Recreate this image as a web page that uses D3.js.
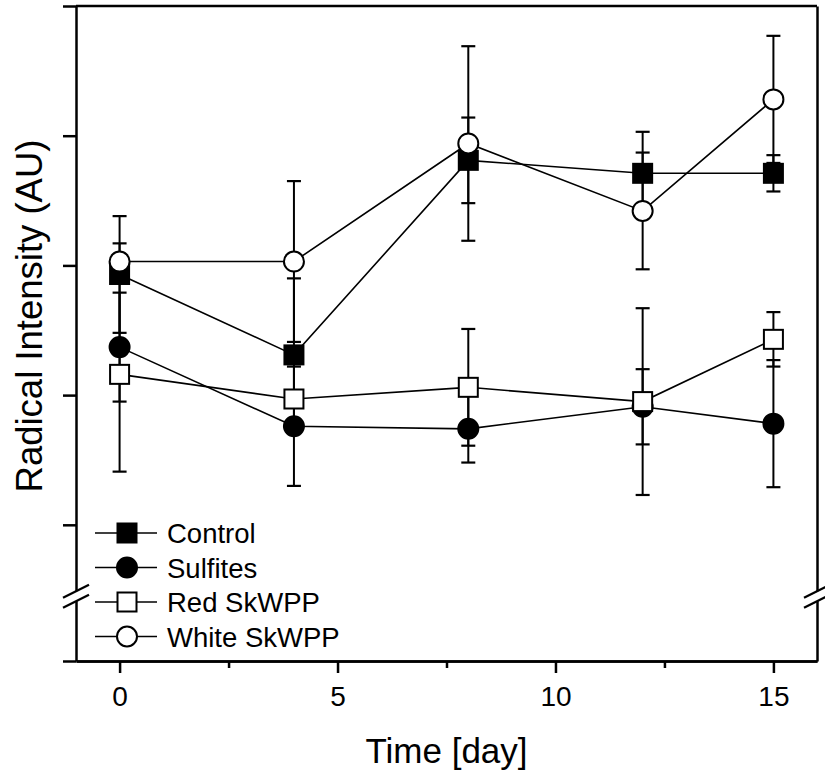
<!DOCTYPE html>
<html>
<head>
<meta charset="utf-8">
<script src="https://cdnjs.cloudflare.com/ajax/libs/d3/7.8.5/d3.min.js"></script>
<style>
  body { margin: 0; background: #fff; }
  svg { display: block; font-family: "Liberation Sans", Arial, sans-serif; }
</style>
</head>
<body>
<div id="chart"></div>
<script>
// data (arbitrary units, y ticks unlabeled)
var days = [0, 4, 8, 12, 15];
var seriesNames = ["Control", "Sulfites", "Red SkWPP", "White SkWPP"];
var control = [2.93, 2.31, 3.81, 3.71, 3.71];
var controlErr = [0.45, 0.59, 0.33, 0.32, 0.14];
var sulfites = [2.37, 1.76, 1.74, 1.91, 1.78];
var sulfitesErr = [0.42, 0.46, 0.26, 0.29, 0.49];
var redSkWPP = [2.16, 1.97, 2.06, 1.95, 2.43];
var redSkWPPErr = [0.75, 0.04, 0.45, 0.72, 0.21];
var whiteSkWPP = [3.03, 3.03, 3.94, 3.42, 4.28];
var whiteSkWPPErr = [0.14, 0.62, 0.75, 0.45, 0.49];
var xTicks = [0, 5, 10, 15];
var xMinorTicks = [2.5, 7.5, 12.5];
var yTicks = [1, 2, 3, 4, 5];
var yMin = -0.05, yBreak = 0.45;

var svgW = 825, svgH = 778;
var plotL = 76, plotR = 817, plotT = 6, plotB = 661;

var svg = d3.select("#chart").append("svg").attr("width", svgW).attr("height", svgH);

var x = d3.scaleLinear().domain([-1, 16]).range([plotL, plotR]);
var y = d3.scaleLinear().domain([yMin, 5]).range([plotB, plotT]);

var series = [
  { name: seriesNames[0], vals: control, err: controlErr, shape: "square", fill: "#000" },
  { name: seriesNames[1], vals: sulfites, err: sulfitesErr, shape: "circle", fill: "#000" },
  { name: seriesNames[2], vals: redSkWPP, err: redSkWPPErr, shape: "square", fill: "#fff" },
  { name: seriesNames[3], vals: whiteSkWPP, err: whiteSkWPPErr, shape: "circle", fill: "#fff" }
];

// axes
var yAxis = d3.axisLeft(y).tickValues([yMin].concat(yTicks)).tickSize(13).tickSizeOuter(0).tickFormat("");
svg.append("g").attr("class", "axis").attr("transform", "translate(" + plotL + ",0)").call(yAxis);

var yAxisR = d3.axisRight(y).tickValues([]).tickSizeOuter(0);
svg.append("g").attr("class", "axis").attr("transform", "translate(" + plotR + ",0)").call(yAxisR);

var xAxis = d3.axisBottom(x).tickValues(xTicks).tickSize(12).tickSizeOuter(0).tickPadding(13);
var gx = svg.append("g").attr("class", "axis").attr("transform", "translate(0," + plotB + ")").call(xAxis);
gx.attr("font-size", null).attr("font-family", null);
gx.selectAll("text").style("font-size", "28px").attr("fill", "#000");

var xMinor = d3.axisBottom(x).tickValues(xMinorTicks).tickSize(7).tickSizeOuter(0).tickFormat("");
svg.append("g").attr("class", "axis").attr("transform", "translate(0," + plotB + ")").call(xMinor);

// top frame
svg.append("line").attr("x1", plotL).attr("x2", plotR).attr("y1", y(5)).attr("y2", y(5))
  .attr("stroke", "#000").attr("stroke-width", 2.5);

svg.selectAll(".axis path, .axis line").attr("stroke", "#000").attr("stroke-width", 2.5);

// axis breaks
[plotL, plotR].forEach(function (ax) {
  var yb = y(yBreak);
  svg.append("rect").attr("x", ax - 3).attr("y", yb - 5).attr("width", 6).attr("height", 10).attr("fill", "#fff");
  [-5, 5].forEach(function (off) {
    svg.append("line")
      .attr("x1", ax - 13).attr("y1", yb + off + 6.5)
      .attr("x2", ax + 13).attr("y2", yb + off - 6.5)
      .attr("stroke", "#000").attr("stroke-width", 2.2);
  });
});

// error bars
series.forEach(function (s) {
  var g = svg.append("g");
  days.forEach(function (d, i) {
    var cx = x(d), y1 = y(s.vals[i] + s.err[i]), y2 = y(s.vals[i] - s.err[i]);
    g.append("line").attr("x1", cx).attr("x2", cx).attr("y1", y1).attr("y2", y2)
      .attr("stroke", "#000").attr("stroke-width", 2);
    [y1, y2].forEach(function (yy) {
      g.append("line").attr("x1", cx - 7).attr("x2", cx + 7).attr("y1", yy).attr("y2", yy)
        .attr("stroke", "#000").attr("stroke-width", 2.2);
    });
  });
});

// connecting lines
var line = d3.line().x(function (d) { return x(d[0]); }).y(function (d) { return y(d[1]); });
series.forEach(function (s) {
  svg.append("path").datum(d3.zip(days, s.vals)).attr("d", line)
    .attr("fill", "none").attr("stroke", "#000").attr("stroke-width", 1.6);
});

function drawMarker(g, shape, fill, cx, cy) {
  if (shape === "square") {
    g.append("rect").attr("x", cx - 9.5).attr("y", cy - 9.5).attr("width", 19).attr("height", 19)
      .attr("fill", fill).attr("stroke", "#000").attr("stroke-width", 2);
  } else {
    g.append("circle").attr("cx", cx).attr("cy", cy).attr("r", 10)
      .attr("fill", fill).attr("stroke", "#000").attr("stroke-width", 2);
  }
}

// markers
series.forEach(function (s) {
  var g = svg.append("g");
  days.forEach(function (d, i) { drawMarker(g, s.shape, s.fill, x(d), y(s.vals[i])); });
});

// legend
var legend = svg.append("g").attr("transform", "translate(95,533)");
series.forEach(function (s, i) {
  var g = legend.append("g").attr("transform", "translate(0," + (i * 34.5) + ")");
  g.append("line").attr("x1", 0).attr("x2", 62).attr("y1", 0).attr("y2", 0)
    .attr("stroke", "#000").attr("stroke-width", 1.6);
  drawMarker(g, s.shape, s.fill, 32, 0);
  g.append("text").attr("x", 72).attr("y", 10).style("font-size", "27.5px").attr("fill", "#000").text(s.name);
});

// axis titles
svg.append("text").attr("x", (plotL + plotR) / 2).attr("y", 763).attr("text-anchor", "middle")
  .style("font-size", "35px").attr("fill", "#000").text("Time [day]");
svg.append("text").attr("transform", "translate(42,316) rotate(-90)").attr("text-anchor", "middle")
  .style("font-size", "36.5px").attr("fill", "#000").text("Radical Intensity (AU)");
</script>
</body>
</html>
